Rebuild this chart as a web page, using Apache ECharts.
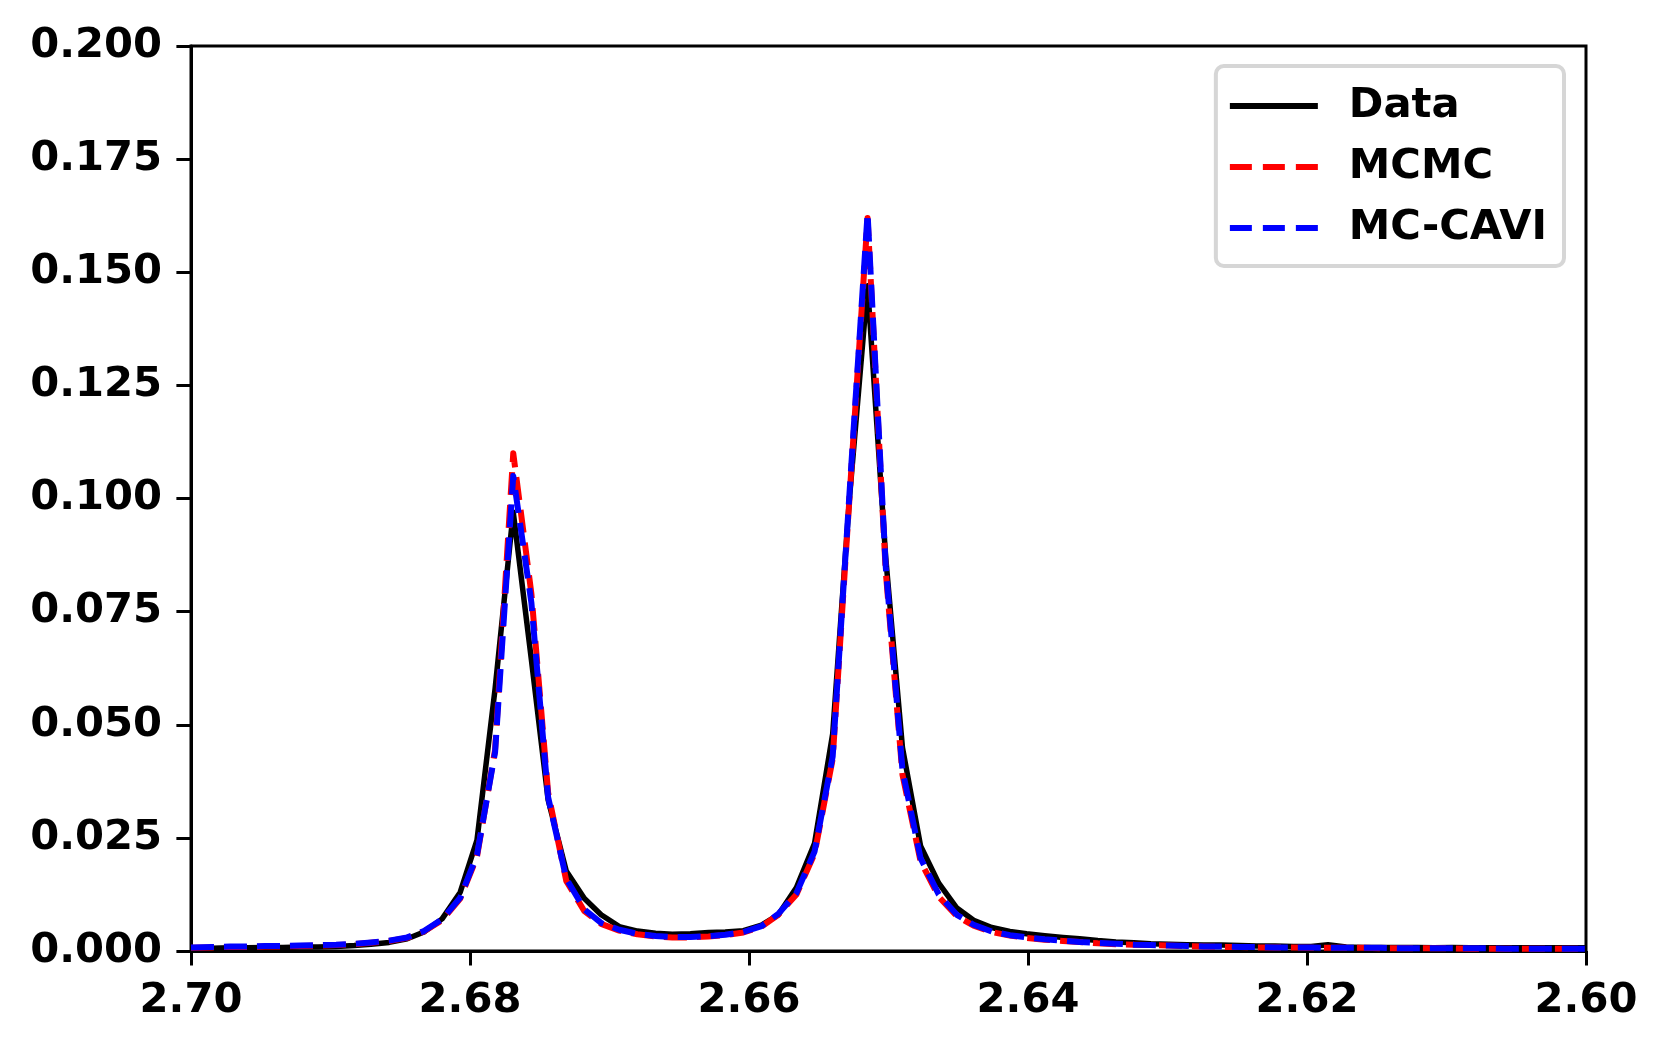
<!DOCTYPE html>
<html>
<head>
<meta charset="utf-8">
<script src="https://cdn.jsdelivr.net/npm/echarts@6/dist/echarts.min.js"></script>
<style>html,body{margin:0;padding:0;background:#fff}#c{width:1667px;height:1053px}</style>
</head>
<body>
<div id="c"></div>
<script>
const seriesNames = ['Data', 'MCMC', 'MC-CAVI'];
const xTicks = [2.70, 2.68, 2.66, 2.64, 2.62, 2.60];
const yTicks = [0, 0.025, 0.05, 0.075, 0.1, 0.125, 0.15, 0.175, 0.2];

const xs = [2.7000, 2.6985, 2.6972, 2.6960, 2.6947, 2.6934, 2.6922, 2.6909, 2.6896, 2.6883, 2.6871, 2.6858, 2.6845, 2.6833, 2.6820, 2.6807, 2.6795, 2.6782, 2.6769,
  2.6756, 2.6744, 2.6731, 2.6718, 2.6706, 2.6693, 2.6680, 2.6667, 2.6655, 2.6642, 2.6629, 2.6617, 2.6604, 2.6591, 2.6579, 2.6566, 2.6553, 2.6540, 2.6528, 2.6515,
  2.6502, 2.6490, 2.6477, 2.6464, 2.6451, 2.6439, 2.6426, 2.6413, 2.6401, 2.6388, 2.6375, 2.6363, 2.6350, 2.6337, 2.6324, 2.6312, 2.6299, 2.6286, 2.6274, 2.6261,
  2.6248, 2.6236, 2.6223, 2.6210, 2.6197, 2.6185, 2.6172, 2.6159, 2.6147, 2.6134, 2.6121, 2.6109, 2.6096, 2.6083, 2.6071, 2.6058, 2.6045, 2.6032, 2.6020, 2.6000];

const dataVals = [0.0006, 0.0006, 0.0007, 0.0007, 0.0008, 0.0008, 0.0009, 0.0009, 0.0010, 0.0012, 0.0015, 0.0019, 0.0027, 0.0042, 0.0071, 0.0130, 0.0245, 0.0580, 0.0970,
  0.0644, 0.0334, 0.0177, 0.0116, 0.0080, 0.0054, 0.0044, 0.0039, 0.0037, 0.0038, 0.0041, 0.0042, 0.0045, 0.0057, 0.0080, 0.0140, 0.0238, 0.0480, 0.1000, 0.1470,
  0.0870, 0.0450, 0.0232, 0.0150, 0.0095, 0.0068, 0.0052, 0.0043, 0.0038, 0.0034, 0.0030, 0.0027, 0.0023, 0.0020, 0.0018, 0.0016, 0.0015, 0.0014, 0.0013, 0.0013,
  0.0012, 0.0011, 0.0011, 0.0010, 0.0010, 0.0014, 0.0009, 0.0008, 0.0008, 0.0008, 0.0008, 0.0007, 0.0008, 0.0007, 0.0007, 0.0007, 0.0007, 0.0007, 0.0007, 0.0007];

const mcmcVals = [0.0007, 0.0008, 0.0009, 0.0009, 0.0010, 0.0010, 0.0011, 0.0012, 0.0013, 0.0015, 0.0018, 0.0022, 0.0029, 0.0043, 0.0068, 0.0116, 0.0208, 0.0445, 0.1100,
  0.0790, 0.0350, 0.0155, 0.0088, 0.0060, 0.0045, 0.0037, 0.0032, 0.0030, 0.0030, 0.0032, 0.0035, 0.0041, 0.0054, 0.0080, 0.0125, 0.0215, 0.0425, 0.1000, 0.1620,
  0.0840, 0.0390, 0.0198, 0.0120, 0.0077, 0.0056, 0.0042, 0.0034, 0.0029, 0.0025, 0.0022, 0.0020, 0.0017, 0.0015, 0.0014, 0.0013, 0.0012, 0.0011, 0.0010, 0.0009,
  0.0009, 0.0008, 0.0008, 0.0008, 0.0007, 0.0007, 0.0007, 0.0007, 0.0006, 0.0006, 0.0006, 0.0006, 0.0006, 0.0005, 0.0005, 0.0005, 0.0005, 0.0005, 0.0005, 0.0005];

const mccaviVals = [0.0008, 0.0009, 0.0010, 0.0010, 0.0011, 0.0011, 0.0012, 0.0013, 0.0014, 0.0016, 0.0019, 0.0023, 0.0030, 0.0044, 0.0070, 0.0118, 0.0212, 0.0440, 0.1050,
  0.0770, 0.0340, 0.0160, 0.0092, 0.0062, 0.0047, 0.0038, 0.0033, 0.0031, 0.0031, 0.0033, 0.0036, 0.0042, 0.0055, 0.0082, 0.0128, 0.0220, 0.0430, 0.1010, 0.1630,
  0.0850, 0.0400, 0.0205, 0.0125, 0.0080, 0.0058, 0.0043, 0.0035, 0.0030, 0.0026, 0.0023, 0.0020, 0.0018, 0.0016, 0.0014, 0.0013, 0.0012, 0.0011, 0.0010, 0.0010,
  0.0009, 0.0009, 0.0008, 0.0008, 0.0008, 0.0007, 0.0007, 0.0007, 0.0007, 0.0006, 0.0006, 0.0006, 0.0006, 0.0006, 0.0006, 0.0005, 0.0005, 0.0005, 0.0005, 0.0005];

const FONT = 'DejaVu Sans';
const FS = 41.7;
const pairs = vals => xs.map((x, i) => [x, vals[i]]);
const solidIcon = 'path://M0,0h88v6h-88z';
const dashIcon = 'path://M0,0h22v6h-22zM33,0h22v6h-22zM66,0h22v6h-22z';

const chart = echarts.init(document.getElementById('c'), null, {renderer: 'canvas'});
chart.setOption({
  animation: false,
  backgroundColor: '#ffffff',
  grid: {left: 191, right: 81, top: 46, bottom: 102, show: true, borderColor: '#000', borderWidth: 3, backgroundColor: 'transparent'},
  xAxis: {
    type: 'value', inverse: true, min: xTicks[5], max: xTicks[0], interval: 0.02,
    axisLine: {show: true, onZero: false, lineStyle: {color: '#000', width: 3}},
    axisTick: {show: true, inside: false, length: 14.6, lineStyle: {color: '#000', width: 3}},
    splitLine: {show: false},
    axisLabel: {margin: 29, fontFamily: FONT, fontWeight: 'bold', fontSize: FS, color: '#000', formatter: v => v.toFixed(2)}
  },
  yAxis: {
    type: 'value', min: yTicks[0], max: yTicks[yTicks.length - 1], interval: 0.025,
    axisLine: {show: true, lineStyle: {color: '#000', width: 3}},
    axisTick: {show: true, inside: false, length: 14.6, lineStyle: {color: '#000', width: 3}},
    splitLine: {show: false},
    axisLabel: {margin: 29, fontFamily: FONT, fontWeight: 'bold', fontSize: FS, color: '#000', formatter: v => v.toFixed(3)}
  },
  legend: {
    data: [
      {name: seriesNames[0], icon: solidIcon},
      {name: seriesNames[1], icon: dashIcon},
      {name: seriesNames[2], icon: dashIcon}
    ],
    orient: 'vertical', right: 103, top: 66,
    itemWidth: 88, itemHeight: 6, itemGap: 19,
    padding: [19, 17, 17, 14],
    backgroundColor: '#ffffff', borderColor: '#d6d6d6', borderWidth: 4, borderRadius: 8,
    itemStyle: {borderWidth: 0},
    textStyle: {fontFamily: FONT, fontWeight: 'bold', fontSize: FS, color: '#000', lineHeight: 42, padding: [0, 0, 0, 26]}
  },
  series: [
    {name: seriesNames[0], type: 'line', data: pairs(dataVals), showSymbol: false, symbol: 'none', z: 2,
      lineStyle: {color: '#000000', width: 5.5, join: 'round'}, itemStyle: {color: '#000000'}},
    {name: seriesNames[1], type: 'line', data: pairs(mcmcVals), showSymbol: false, symbol: 'none', z: 3,
      lineStyle: {color: '#ff0000', width: 6, type: [23, 10], cap: 'butt', join: 'round'}, itemStyle: {color: '#ff0000'}},
    {name: seriesNames[2], type: 'line', data: pairs(mccaviVals), showSymbol: false, symbol: 'none', z: 4,
      lineStyle: {color: '#0000ff', width: 6, type: [23, 10], cap: 'butt', join: 'round'}, itemStyle: {color: '#0000ff'}}
  ]
});
</script>
</body>
</html>
